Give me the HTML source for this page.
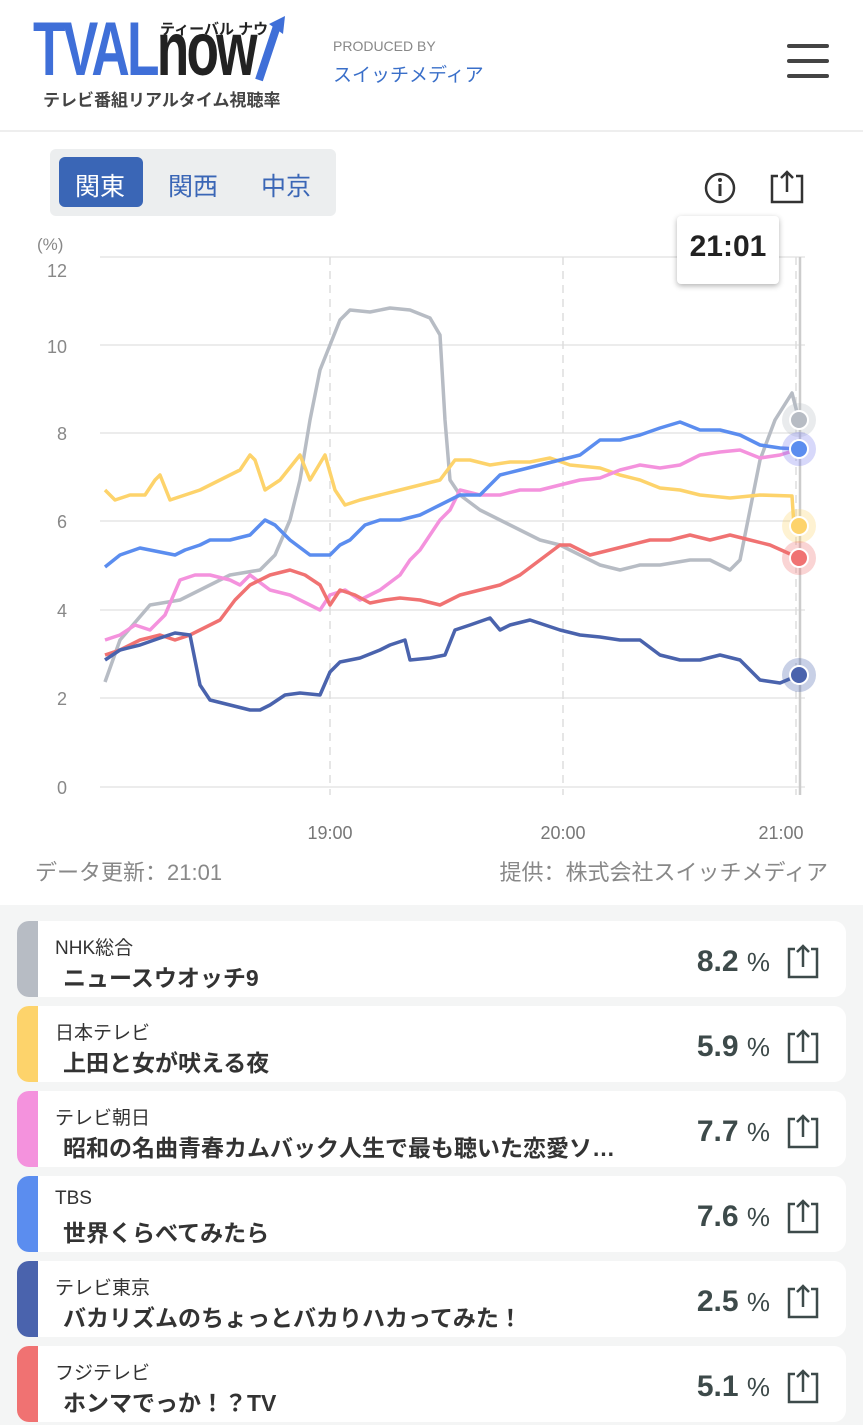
<!DOCTYPE html>
<html><head><meta charset="utf-8"><style>
body{margin:0;width:863px;height:1425px;background:#fff;font-family:"Liberation Sans","Noto Sans CJK JP",sans-serif;position:relative;overflow:hidden}
.a{position:absolute}
.card{position:absolute;left:17px;width:829px;height:76px;background:#fff;border-radius:12px;overflow:hidden}
.bar{position:absolute;left:0;top:0;width:21px;height:100%}
.ch{position:absolute;left:38px;top:12px;font-size:19px;color:#333}
.pg{position:absolute;left:46px;top:38px;font-size:23px;font-weight:bold;color:#333;white-space:nowrap}
.pc{position:absolute;right:76px;top:24px;font-size:30px;font-weight:bold;color:#3d4a4a}
.pc span{font-size:26px;font-weight:normal}
.sh{position:absolute;right:26px;top:22px}
</style></head><body>
<div class="a" style="left:33px;top:12px;font-size:76px;font-weight:bold;color:#3f6fd8;letter-spacing:-4px;transform:scaleX(0.7);transform-origin:left;line-height:76px">TVAL<span style="color:#222">now</span></div>
<div class="a" style="left:160px;top:18px;font-size:15px;color:#222;font-weight:bold">ティーバル ナウ</div>
<svg class="a" style="left:255px;top:14px" width="32" height="70"><path d="M4 66 L22 12" stroke="#3f6fd8" stroke-width="8"/><path d="M14 10 L30 2 L28 20Z" fill="#3f6fd8"/></svg>
<div class="a" style="left:43px;top:86px;font-size:17px;color:#444;font-weight:bold">テレビ番組リアルタイム視聴率</div>
<div class="a" style="left:333px;top:38px;font-size:14px;color:#888">PRODUCED BY</div>
<div class="a" style="left:333px;top:60px;font-size:19px;color:#3a6fc9">スイッチメディア</div>
<div class="a" style="left:787px;top:44px;width:42px;height:4px;background:#444;border-radius:2px"></div>
<div class="a" style="left:787px;top:59px;width:42px;height:4px;background:#444;border-radius:2px"></div>
<div class="a" style="left:787px;top:74px;width:42px;height:4px;background:#444;border-radius:2px"></div>
<div class="a" style="left:0;top:130px;width:863px;height:2px;background:#eee"></div>
<div class="a" style="left:50px;top:149px;width:286px;height:67px;background:#eceeef;border-radius:6px"></div>
<div class="a" style="left:59px;top:157px;width:84px;height:50px;background:#3a66b6;border-radius:6px"></div>
<div class="a" style="left:75px;top:167px;font-size:25px;color:#fff">関東</div>
<div class="a" style="left:168px;top:167px;font-size:25px;color:#3a66b6">関西</div>
<div class="a" style="left:261px;top:167px;font-size:25px;color:#3a66b6">中京</div>
<svg class="a" style="left:700px;top:168px" width="110" height="40"><circle cx="20" cy="20" r="14" fill="none" stroke="#333" stroke-width="2.5"/><circle cx="20" cy="12" r="2" fill="#333"/><rect x="18.5" y="16" width="3" height="12" fill="#333"/><path d="M78 8 h-6 v26 h30 v-26 h-6" fill="none" stroke="#333" stroke-width="2.5"/><path d="M87 24 v-20 M81 10 l6 -6 l6 6" fill="none" stroke="#333" stroke-width="2.5"/></svg>
<svg class="a" style="left:0;top:225px" width="863" height="680" font-family="Liberation Sans" >
<g transform="translate(0,-225)">
<text x="37" y="250" font-size="17" fill="#888">(%)</text>
<g font-size="18" fill="#888" text-anchor="end">
<text x="67" y="277">12</text><text x="67" y="353">10</text><text x="67" y="440">8</text><text x="67" y="528">6</text><text x="67" y="617">4</text><text x="67" y="705">2</text><text x="67" y="794">0</text></g>
<g stroke="#e5e5e5" stroke-width="1.5">
<line x1="100" x2="805" y1="257" y2="257"/><line x1="100" x2="805" y1="345" y2="345"/><line x1="100" x2="805" y1="433" y2="433"/><line x1="100" x2="805" y1="521" y2="521"/><line x1="100" x2="805" y1="610" y2="610"/><line x1="100" x2="805" y1="698" y2="698"/><line x1="100" x2="805" y1="787" y2="787"/></g>
<g stroke="#ddd" stroke-width="1.5" stroke-dasharray="8,6"><line x1="330" x2="330" y1="257" y2="795"/><line x1="563" x2="563" y1="257" y2="795"/><line x1="796" x2="796" y1="257" y2="795"/></g>
<line x1="800" x2="800" y1="257" y2="795" stroke="#ccc" stroke-width="2.5"/>
<g font-size="18" fill="#777" text-anchor="middle"><text x="330" y="839">19:00</text><text x="563" y="839">20:00</text><text x="781" y="839">21:00</text></g>
<g fill="none" stroke-width="3.5" stroke-linejoin="round">
<polyline stroke="#b7bcc4" points="105,682 120,640 150,605 180,600 200,590 230,575 260,570 275,555 290,520 300,480 310,420 320,370 330,345 340,320 350,310 370,312 390,308 410,310 430,318 440,335 445,420 450,480 460,495 480,510 500,520 520,530 540,540 560,545 580,555 600,565 620,570 640,565 660,565 690,560 710,560 730,570 740,560 750,510 760,460 775,420 792,393 799,420"/>
<polyline stroke="#fdd36b" points="105,490 115,500 130,495 145,495 155,480 160,475 170,500 185,495 200,490 220,480 240,470 250,455 255,460 265,490 280,480 300,455 310,480 325,455 335,490 345,505 360,500 380,495 400,490 420,485 440,480 455,460 470,460 490,465 510,462 530,462 550,458 570,465 600,468 620,475 640,480 660,488 680,490 700,495 730,498 760,495 792,496 794,526"/>
<polyline stroke="#f492dd" points="105,640 120,635 135,625 150,630 165,615 180,580 195,575 210,575 230,580 240,585 250,575 270,590 290,595 310,605 320,610 330,595 345,590 360,600 380,590 400,575 410,560 420,550 440,520 450,510 460,490 480,495 500,495 520,490 540,490 560,485 580,480 600,478 620,470 640,465 660,468 680,465 700,455 720,452 740,450 760,458 780,455 799,449"/>
<polyline stroke="#5b8def" points="105,567 120,555 140,548 160,552 175,555 185,550 200,545 210,540 230,540 250,535 265,520 275,525 290,540 310,555 330,555 340,545 350,540 365,525 380,520 400,520 420,515 440,505 460,495 480,495 500,475 520,470 540,465 560,460 580,455 600,440 620,440 640,435 660,428 680,422 700,430 720,430 740,435 760,445 780,448 799,449"/>
<polyline stroke="#f07272" points="105,655 120,650 140,640 160,635 175,640 190,635 200,630 220,620 235,600 250,585 270,575 290,570 305,575 320,585 330,605 340,590 355,595 370,603 385,600 400,598 420,600 440,605 460,595 480,590 500,585 520,575 540,560 560,545 570,545 590,555 610,550 630,545 650,540 670,540 690,535 710,540 730,535 750,540 770,545 799,558"/>
<polyline stroke="#4a63ad" points="105,660 120,650 140,645 160,638 175,633 190,635 195,660 200,685 210,700 230,705 250,710 260,710 270,705 285,695 300,693 320,695 330,672 340,662 360,658 380,650 390,645 405,640 410,660 430,658 445,655 455,630 470,625 490,618 500,630 510,625 530,620 545,625 560,630 580,635 600,637 620,640 640,640 660,655 680,660 700,660 720,655 740,660 760,680 780,683 799,675"/>
</g>
<g stroke="#fff" stroke-width="2">
<circle cx="799" cy="420" r="17" fill="#b7bcc4" fill-opacity=".3" stroke="none"/><circle cx="799" cy="420" r="9" fill="#b7bcc4"/>
<circle cx="799" cy="449" r="17" fill="#7b7ef0" fill-opacity=".3" stroke="none"/><circle cx="799" cy="449" r="9" fill="#5b8def"/>
<circle cx="799" cy="526" r="17" fill="#fdd36b" fill-opacity=".3" stroke="none"/><circle cx="799" cy="526" r="9" fill="#fdd36b"/>
<circle cx="799" cy="558" r="17" fill="#f07272" fill-opacity=".3" stroke="none"/><circle cx="799" cy="558" r="9" fill="#f07272"/>
<circle cx="799" cy="675" r="17" fill="#4a63ad" fill-opacity=".3" stroke="none"/><circle cx="799" cy="675" r="9" fill="#4a63ad"/>
</g>
<text x="35" y="880" font-size="22" fill="#888">データ更新：21:01</text>
<text x="828" y="880" font-size="22" fill="#888" text-anchor="end">提供：株式会社スイッチメディア</text>
</g></svg>
<div class="a" style="left:677px;top:216px;width:102px;height:68px;background:#fff;border-radius:4px;box-shadow:0 2px 6px rgba(0,0,0,.3)"></div>
<div class="a" style="left:677px;top:230px;width:102px;text-align:center;font-size:30px;font-weight:bold;color:#222">21:01</div>
<div class="a" style="left:0;top:905px;width:863px;height:520px;background:#f4f5f5"></div>
<div class="card" style="top:921px"><div class="bar" style="background:#b7bcc4"></div><div class="ch">NHK総合</div><div class="pg">ニュースウオッチ9</div><div class="pc">8.2 <span>%</span></div><svg class="sh" width="34" height="36"><path d="M9 6 h-6 v28 h28 v-28 h-6" fill="none" stroke="#3d4a4a" stroke-width="2.5"/><path d="M17 24 v-21 M11 9 l6 -6 l6 6" fill="none" stroke="#3d4a4a" stroke-width="2.5"/></svg></div>
<div class="card" style="top:1006px"><div class="bar" style="background:#fdd36b"></div><div class="ch">日本テレビ</div><div class="pg">上田と女が吠える夜</div><div class="pc">5.9 <span>%</span></div><svg class="sh" width="34" height="36"><path d="M9 6 h-6 v28 h28 v-28 h-6" fill="none" stroke="#3d4a4a" stroke-width="2.5"/><path d="M17 24 v-21 M11 9 l6 -6 l6 6" fill="none" stroke="#3d4a4a" stroke-width="2.5"/></svg></div>
<div class="card" style="top:1091px"><div class="bar" style="background:#f492dd"></div><div class="ch">テレビ朝日</div><div class="pg">昭和の名曲青春カムバック人生で最も聴いた恋愛ソ…</div><div class="pc">7.7 <span>%</span></div><svg class="sh" width="34" height="36"><path d="M9 6 h-6 v28 h28 v-28 h-6" fill="none" stroke="#3d4a4a" stroke-width="2.5"/><path d="M17 24 v-21 M11 9 l6 -6 l6 6" fill="none" stroke="#3d4a4a" stroke-width="2.5"/></svg></div>
<div class="card" style="top:1176px"><div class="bar" style="background:#5b8def"></div><div class="ch">TBS</div><div class="pg">世界くらべてみたら</div><div class="pc">7.6 <span>%</span></div><svg class="sh" width="34" height="36"><path d="M9 6 h-6 v28 h28 v-28 h-6" fill="none" stroke="#3d4a4a" stroke-width="2.5"/><path d="M17 24 v-21 M11 9 l6 -6 l6 6" fill="none" stroke="#3d4a4a" stroke-width="2.5"/></svg></div>
<div class="card" style="top:1261px"><div class="bar" style="background:#4a63ad"></div><div class="ch">テレビ東京</div><div class="pg">バカリズムのちょっとバカりハカってみた！</div><div class="pc">2.5 <span>%</span></div><svg class="sh" width="34" height="36"><path d="M9 6 h-6 v28 h28 v-28 h-6" fill="none" stroke="#3d4a4a" stroke-width="2.5"/><path d="M17 24 v-21 M11 9 l6 -6 l6 6" fill="none" stroke="#3d4a4a" stroke-width="2.5"/></svg></div>
<div class="card" style="top:1346px"><div class="bar" style="background:#f07272"></div><div class="ch">フジテレビ</div><div class="pg">ホンマでっか！？TV</div><div class="pc">5.1 <span>%</span></div><svg class="sh" width="34" height="36"><path d="M9 6 h-6 v28 h28 v-28 h-6" fill="none" stroke="#3d4a4a" stroke-width="2.5"/><path d="M17 24 v-21 M11 9 l6 -6 l6 6" fill="none" stroke="#3d4a4a" stroke-width="2.5"/></svg></div>
</body></html>
